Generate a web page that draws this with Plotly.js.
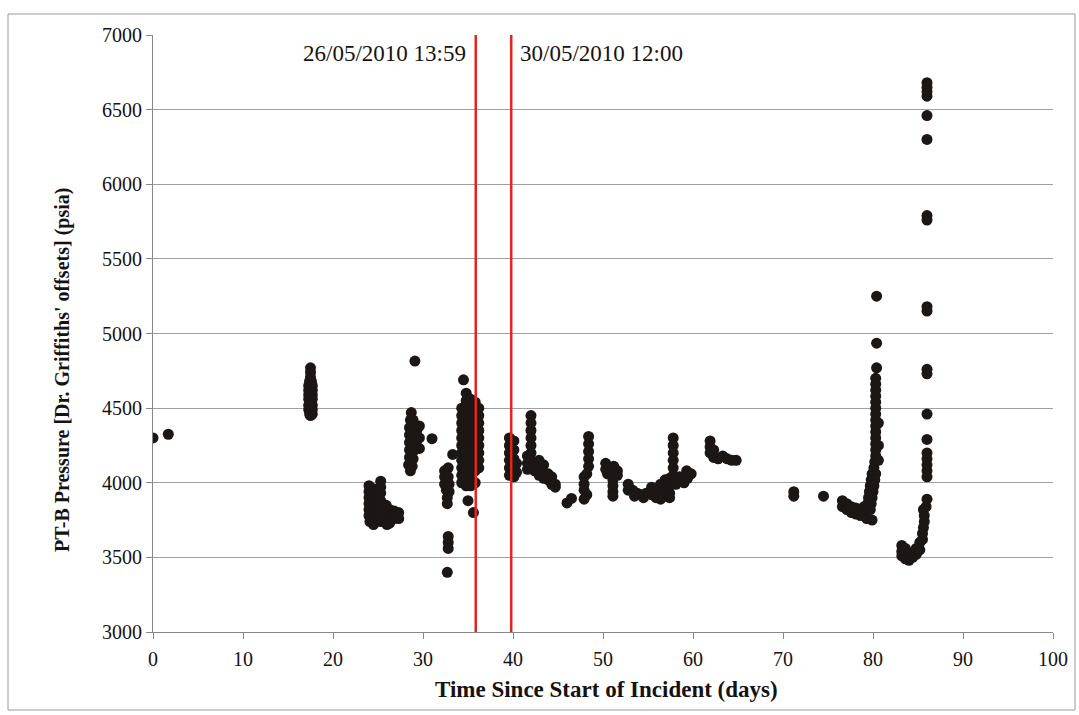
<!DOCTYPE html>
<html>
<head>
<meta charset="utf-8">
<script src="https://cdn.plot.ly/plotly-3.0.1.min.js"></script>
<style>
html,body{margin:0;padding:0;background:#fff;}
#chart{width:1079px;height:715px;}
</style>
</head>
<body>
<div id="chart"></div>
<script>
// ---- Data ----
const days = [
  0, 1.7,
  17.5,17.5,17.5,17.4,17.6,17.3,17.7,17.3,17.7,17.3,17.7,17.5,17.3,17.7,17.5,17.3,17.7,17.3,17.7,17.4,17.7,17.5,
  24.0,24.0,24.0,24.0,24.0,24.0,24.1,24.5,24.5,24.5,24.5,24.5,24.5,24.5,25.0,25.0,25.0,25.0,25.0,25.3,25.3,25.3,25.3,25.3,25.3,25.3,25.9,25.9,25.9,26.3,26.3,26.3,26.8,26.8,27.3,27.3,26.0,
  29.1,28.7,28.6,28.9,28.5,28.9,28.5,28.9,29.3,29.6,29.6,29.3,28.5,28.9,29.6,28.5,28.9,28.5,28.9,28.4,28.8,28.6,31.0,
  32.4,32.8,32.4,32.8,32.4,32.9,32.6,32.9,32.7,32.7,33.3,32.8,32.8,32.8,32.7,
  34.5,34.3,34.3,34.3,34.3,34.3,34.3,34.3,34.3,34.3,34.3,34.3,34.8,34.8,34.8,34.8,34.8,34.8,34.8,34.8,34.8,34.8,34.8,34.8,34.8,
  35.3,35.3,35.3,35.3,35.3,35.3,35.3,35.3,35.3,35.3,35.3,35.3,35.8,35.8,35.8,35.8,35.8,35.8,35.8,35.8,35.8,35.8,35.8,
  36.2,36.2,36.2,36.2,36.2,36.2,36.2,36.2,36.2,35.0,35.6,
  39.6,39.6,39.6,39.6,39.6,39.6,40.1,40.1,40.1,40.1,40.1,40.4,40.4,
  42.0,42.0,42.0,42.0,42.0,42.0,42.0,41.6,41.6,41.6,42.4,42.4,42.9,42.9,42.9,43.4,43.4,43.4,43.9,43.9,44.3,44.3,44.7,44.7,
  46.0,46.5,
  48.4,48.4,48.4,48.4,48.4,48.2,47.9,47.9,47.9,48.2,47.9,
  50.3,50.3,50.7,51.2,51.6,51.6,50.5,51.0,51.1,51.1,51.1,51.1,
  52.8,52.8,53.3,53.8,54.3,54.8,53.5,54.5,
  57.8,57.8,57.8,57.8,57.8,57.8,57.4,57.4,57.4,57.4,56.9,56.9,56.9,56.4,56.4,56.4,55.9,55.9,55.4,55.4,58.1,
  58.5,59.0,59.4,59.8,59.3,
  61.9,61.9,61.9,62.3,62.8,63.3,63.8,64.3,64.8,62.3,
  71.2,71.2,74.5,
  76.6,76.6,77.1,77.1,77.6,77.6,78.1,78.1,78.6,78.6,79.0,79.0,79.3,79.9,
  80.4,80.4,80.4,80.3,80.3,80.3,80.3,80.3,80.3,80.3,80.3,80.3,80.3,80.3,80.3,80.3,80.3,80.2,80.1,79.9,80.3,79.8,80.2,79.7,80.1,79.6,80.0,79.5,79.9,79.4,79.8,79.3,79.7,80.6,80.6,80.6,
  83.2,83.2,83.2,83.6,83.6,83.6,84.0,84.0,84.4,84.4,84.8,84.8,85.2,85.2,85.5,85.5,85.6,85.7,85.7,85.6,
  86.0,86.0,86.0,86.0,86.0,86.0,86.0,86.0,86.0,86.0,86.0,86.0,86.0,86.0,86.0,86.0,86.0,86.0,86.0,86.0,85.9
];
const pressure = [
  4300, 4325,
  4770,4740,4710,4680,4680,4650,4650,4620,4620,4590,4590,4600,4560,4560,4540,4520,4520,4490,4490,4460,4460,4450,
  3980,3940,3900,3860,3820,3780,3740,3960,3920,3880,3840,3800,3760,3720,3960,3900,3850,3800,3760,4010,3970,3930,3880,3830,3780,3740,3850,3800,3750,3820,3770,3730,3810,3760,3800,3760,3720,
  4815,4470,4420,4420,4370,4370,4320,4320,4350,4380,4300,4280,4270,4260,4230,4220,4210,4170,4160,4120,4110,4080,4295,
  4080,4100,4040,4040,3990,3990,3950,3940,3900,3860,4190,3640,3600,3560,3400,
  4690,4500,4450,4400,4350,4300,4250,4200,4150,4100,4050,4000,4600,4550,4500,4450,4400,4350,4300,4250,4200,4150,4100,4040,3980,
  4560,4510,4460,4410,4360,4310,4260,4210,4160,4110,4050,3980,4540,4490,4440,4390,4340,4290,4240,4190,4140,4080,4000,
  4500,4450,4400,4350,4300,4250,4200,4150,4100,3880,3800,
  4300,4250,4200,4150,4100,4050,4280,4220,4160,4100,4040,4130,4070,
  4450,4400,4350,4300,4250,4200,4150,4180,4130,4090,4120,4080,4150,4100,4050,4120,4070,4030,4060,4020,4040,3990,3990,3970,
  3865,3895,
  4310,4260,4210,4160,4110,4060,4040,3990,3950,3920,3890,
  4130,4090,4100,4110,4080,4050,4060,4060,4020,3980,3940,3910,
  3990,3950,3950,3930,3920,3930,3910,3900,
  4300,4250,4200,4150,4100,4050,4030,3980,3930,3900,4020,3960,3910,3990,3940,3890,3950,3900,3970,3920,3990,
  4040,4000,4030,4060,4080,
  4280,4240,4200,4170,4160,4180,4160,4150,4150,4220,
  3940,3910,3910,
  3880,3840,3860,3820,3840,3800,3830,3790,3820,3780,3840,3790,3760,3750,
  5250,4935,4770,4700,4660,4620,4580,4540,4500,4460,4420,4380,4340,4300,4260,4220,4180,4140,4100,4060,4060,4020,4020,3980,3980,3940,3940,3900,3900,3860,3860,3820,3820,4400,4250,4150,
  3580,3540,3510,3560,3520,3490,3500,3480,3500,3530,3520,3560,3550,3600,3620,3660,3700,3740,3780,3820,
  6680,6650,6620,6590,6460,6300,5790,5760,5180,5150,4760,4730,4460,4290,4200,4160,4120,4080,4040,3890,3840
];
const eventDays = [35.86, 39.8];
const eventLabels = ['26/05/2010 13:59', '30/05/2010 12:00'];
const xTicks = [0,10,20,30,40,50,60,70,80,90,100];
const yTicks = [3000,3500,4000,4500,5000,5500,6000,6500,7000];
const xTitle = 'Time Since Start of Incident (days)';
const yTitle = "PT-B Pressure [Dr. Griffiths' offsets] (psia)";

// ---- Plot ----
const serif = 'Liberation Serif, Times New Roman, serif';
const ink = '#161210';
const trace = {
  x: days, y: pressure, type: 'scatter', mode: 'markers',
  marker: {color: '#1c1614', size: 11},
  hoverinfo: 'x+y', showlegend: false
};

const W = 1079, H = 715, ml = 153, mr = 26, mt = 35, mb = 83;
const pw = W - ml - mr, ph = H - mt - mb;
const px = v => (v - ml) / pw;
const py = v => (H - mb - v) / ph;

const shapes = eventDays.map(d => ({
  type: 'line', xref: 'x', yref: 'paper', x0: d, x1: d, y0: 0, y1: 1,
  line: {color: '#e3241f', width: 2.5}
}));
shapes.push({
  type: 'rect', xref: 'paper', yref: 'paper',
  x0: px(8), x1: px(1075), y0: py(14), y1: py(710),
  line: {color: '#9a9a9a', width: 1}, layer: 'below'
});

const annotations = [
  {x: eventDays[0] - 0.9, y: py(54), xref: 'x', yref: 'paper', text: eventLabels[0],
   xanchor: 'right', yanchor: 'middle', showarrow: false,
   font: {family: serif, size: 23, color: ink}},
  {x: eventDays[1] + 0.8, y: py(54), xref: 'x', yref: 'paper', text: eventLabels[1],
   xanchor: 'left', yanchor: 'middle', showarrow: false,
   font: {family: serif, size: 23, color: ink}},
  {x: px(606), y: py(689), xref: 'paper', yref: 'paper', text: '<b>' + xTitle + '</b>',
   xanchor: 'center', yanchor: 'middle', showarrow: false,
   font: {family: serif, size: 23, color: ink}},
  {x: px(63), y: py(370), xref: 'paper', yref: 'paper', text: '<b>' + yTitle + '</b>',
   textangle: -90, xanchor: 'center', yanchor: 'middle', showarrow: false,
   font: {family: serif, size: 20, color: ink}}
];

const layout = {
  width: W, height: H,
  margin: {l: ml, r: mr, t: mt, b: mb, pad: 0},
  paper_bgcolor: '#ffffff', plot_bgcolor: '#ffffff',
  font: {family: serif, color: ink},
  xaxis: {
    range: [0, 100], tickvals: xTicks, ticktext: xTicks.map(String),
    ticks: 'outside', ticklen: 6, tickcolor: '#888',
    showline: true, linecolor: '#888', linewidth: 1,
    showgrid: false, zeroline: false, ticklabelstandoff: 3,
    tickfont: {family: serif, size: 20, color: ink}
  },
  yaxis: {
    range: [3000, 7000], tickvals: yTicks, ticktext: yTicks.map(String),
    ticks: 'outside', ticklen: 6, tickcolor: '#888',
    showline: true, linecolor: '#888', linewidth: 1,
    showgrid: true, gridcolor: '#a0a0a0', gridwidth: 1, zeroline: false,
    tickfont: {family: serif, size: 20, color: ink}
  },
  shapes: shapes,
  annotations: annotations
};

Plotly.newPlot('chart', [trace], layout, {displayModeBar: false, staticPlot: true});
</script>
</body>
</html>
